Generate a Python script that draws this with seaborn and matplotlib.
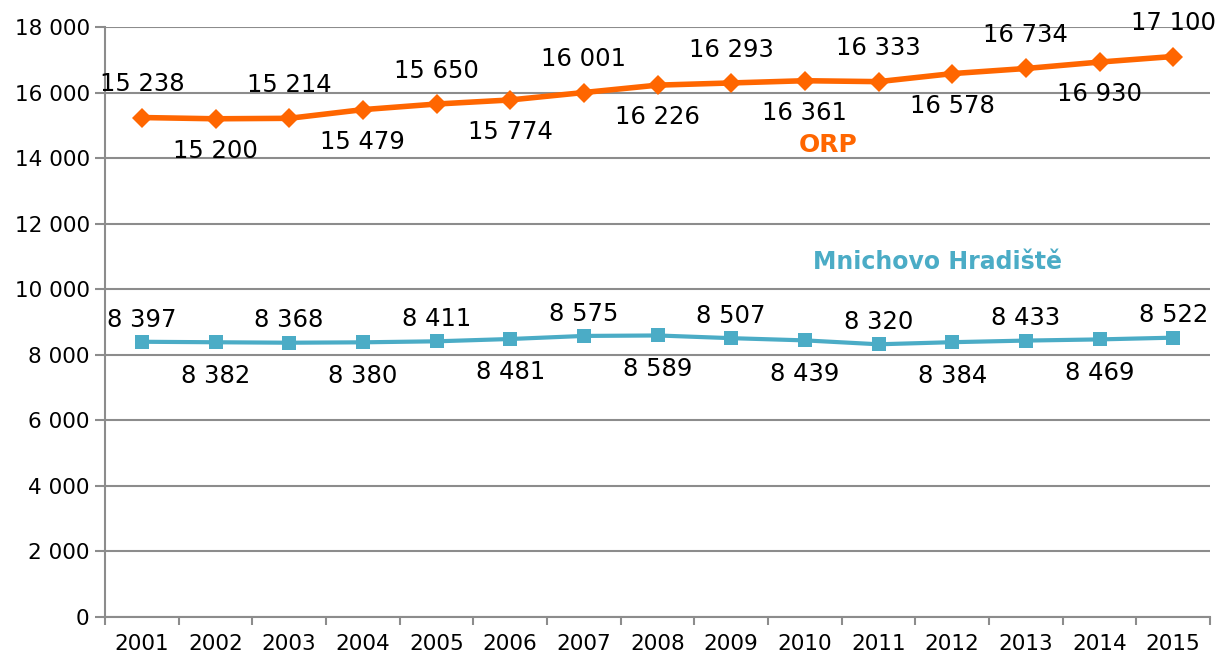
import matplotlib
matplotlib.use("Agg")
import matplotlib.pyplot as plt
import seaborn as sns
import pandas as pd
import numpy as np
from matplotlib.ticker import FuncFormatter, FixedLocator

years = [str(y) for y in range(2001, 2016)]
orp = [15238, 15200, 15214, 15479, 15650, 15774, 16001, 16226, 16293, 16361,
       16333, 16578, 16734, 16930, 17100]
mh = [8397, 8382, 8368, 8380, 8411, 8481, 8575, 8589, 8507, 8439,
      8320, 8384, 8433, 8469, 8522]

ORANGE = "#FF6600"
BLUE = "#4BACC6"
GRID = "#8C8C8C"

sns.set_theme(style="white")
plt.rcParams['font.family'] = ['DejaVu Sans']

fig = plt.figure(figsize=(12.19, 6.56), dpi=100)
ax = fig.add_axes([105/1219, 39/656, (1210-105)/1219, (617-27)/656])

df = pd.DataFrame({"year": years, "ORP": orp, "MH": mh})
sns.lineplot(data=df, x="year", y="ORP", ax=ax, color=ORANGE, lw=4,
             marker="D", markersize=10, markeredgewidth=0, sort=False)
sns.lineplot(data=df, x="year", y="MH", ax=ax, color=BLUE, lw=3,
             marker="s", markersize=10, markeredgewidth=0, sort=False)

def fmt(v):
    return f"{int(v):,}".replace(",", " ")

for i, (a, b) in enumerate(zip(orp, mh)):
    up = (i % 2 == 0)
    ax.annotate(fmt(a), (i, a), xytext=(0, 24 if up else -23), textcoords="offset points",
                ha="center", va="center", fontsize=17.5, color="black")
    ax.annotate(fmt(b), (i, b), xytext=(0, 16 if up else -24), textcoords="offset points",
                ha="center", va="center", fontsize=17.5, color="black")

ax.text(9.32, 14400, "ORP", color=ORANGE, fontsize=18, fontweight="bold",
        ha="center", va="center")
ax.text(10.8, 10830, "Mnichovo Hradiště", color=BLUE, fontsize=17, fontweight="bold",
        ha="center", va="center")

ax.set_xlim(-0.5, len(years) - 0.5)
ax.set_ylim(0, 18000)
ax.set_yticks(np.arange(0, 18001, 2000))
ax.yaxis.set_major_formatter(FuncFormatter(lambda v, p: fmt(v)))
ax.yaxis.grid(True, color=GRID, lw=1.5)
ax.set_axisbelow(True)

ax.xaxis.set_minor_locator(FixedLocator(np.arange(-0.5, len(years), 1.0)))
ax.tick_params(axis="x", which="major", length=0, labelsize=15.5, pad=12, colors="black")
ax.tick_params(axis="x", which="minor", length=6, width=1.5, color=GRID, bottom=True)
ax.tick_params(axis="y", which="major", length=7, width=1.5, color=GRID, labelsize=15.5,
               pad=4, left=True, labelcolor="black")

for s in ["top", "right"]:
    ax.spines[s].set_visible(False)
for s in ["left", "bottom"]:
    ax.spines[s].set_color(GRID)
    ax.spines[s].set_linewidth(1.5)

ax.set_xlabel("")
ax.set_ylabel("")
fig.savefig("out.png", dpi=100)
